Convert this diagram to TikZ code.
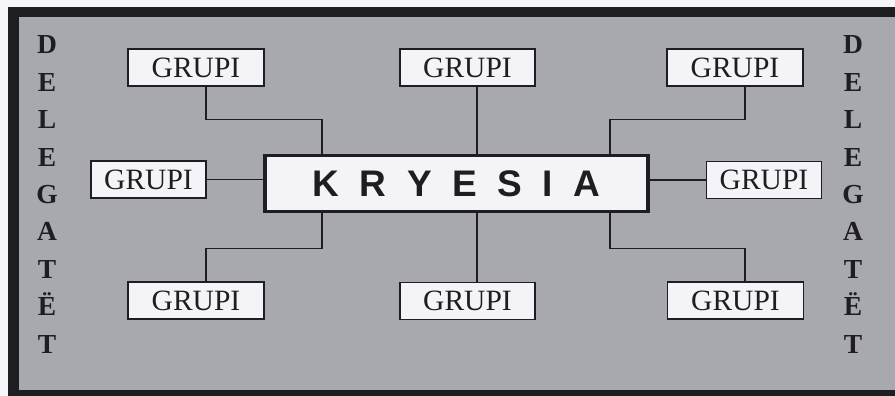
\documentclass[tikz,border=0pt]{standalone}
\usepackage{fontspec}
\setmainfont{Liberation Serif}
\newfontfamily\arialfont{Liberation Sans}
\definecolor{bggray}{RGB}{168,169,174}
\definecolor{boxfill}{RGB}{244,244,248}
\definecolor{ink}{RGB}{30,30,34}
\definecolor{pagewhite}{RGB}{246,246,250}
\begin{document}
\begin{tikzpicture}[x=1pt,y=-1pt,
  grupi/.style={draw=ink, line width=1.2pt, fill=boxfill, minimum height=37pt,
    inner sep=0pt, font=\fontsize{29.5}{31}\selectfont, text=ink},
  conn/.style={draw=ink, line width=1.2pt},
  headbox/.style={draw=ink, line width=3.5pt, fill=boxfill, minimum width=383pt,
    minimum height=56pt, inner sep=0pt, text=ink,
    font=\arialfont\bfseries\fontsize{37}{40}\selectfont},
  sideword/.style={align=center, inner sep=0pt, text=ink,
    font=\bfseries\fontsize{27.5}{37.4}\selectfont}]
\useasboundingbox (0,0) rectangle (895,396);
\fill[pagewhite] (0,0) rectangle (895,396);
\fill[ink] (8,7) rectangle (895,396);
\fill[bggray] (19,17) rectangle (895,390);

\node[headbox] (kr) at (456.5,183.5) {K\hspace{20.6pt}R\hspace{20.6pt}Y\hspace{20.6pt}E\hspace{20.6pt}S\hspace{20.6pt}I\hspace{20.6pt}A};

\node[grupi, minimum width=136pt] (tl) at (196,67.5) {GRUPI};
\node[grupi, minimum width=135pt] (tm) at (467.5,67.5) {GRUPI};
\node[grupi, minimum width=136pt] (tr) at (735,67.5) {GRUPI};
\node[grupi, minimum width=115pt] (lm) at (148.5,179.5) {GRUPI};
\node[grupi, minimum width=115pt] (rm) at (764,180) {GRUPI};
\node[grupi, minimum width=136pt] (bl) at (196,300.5) {GRUPI};
\node[grupi, minimum width=135pt] (bm) at (467.5,301) {GRUPI};
\node[grupi, minimum width=136pt] (br) at (735.5,300.5) {GRUPI};

\node[sideword] (dl) at (47,194.5) {D\\E\\L\\E\\G\\A\\T\\Ë\\T};
\node[sideword] (dr) at (853,194.5) {D\\E\\L\\E\\G\\A\\T\\Ë\\T};

\draw[conn] ([xshift=10pt]tl.south) -- ++(0,33) -| ([xshift=-134.5pt]kr.north);
\draw[conn] ([xshift=9.5pt]tm.south) -- ([xshift=9.5pt]tm.south |- kr.north);
\draw[conn] ([xshift=10pt]tr.south) -- ++(0,33) -| ([xshift=153.5pt]kr.north);
\draw[conn] (lm.east) -- (lm.east -| kr.west);
\draw[conn] (rm.west) -- (rm.west -| kr.east);
\draw[conn] ([xshift=-134.5pt]kr.south) -- ++(0,35) -| ([xshift=10pt]bl.north);
\draw[conn] ([xshift=9.5pt]bm.north) -- ([xshift=9.5pt]bm.north |- kr.south);
\draw[conn] ([xshift=153.5pt]kr.south) -- ++(0,35) -| ([xshift=9.5pt]br.north);
\end{tikzpicture}
\end{document}
